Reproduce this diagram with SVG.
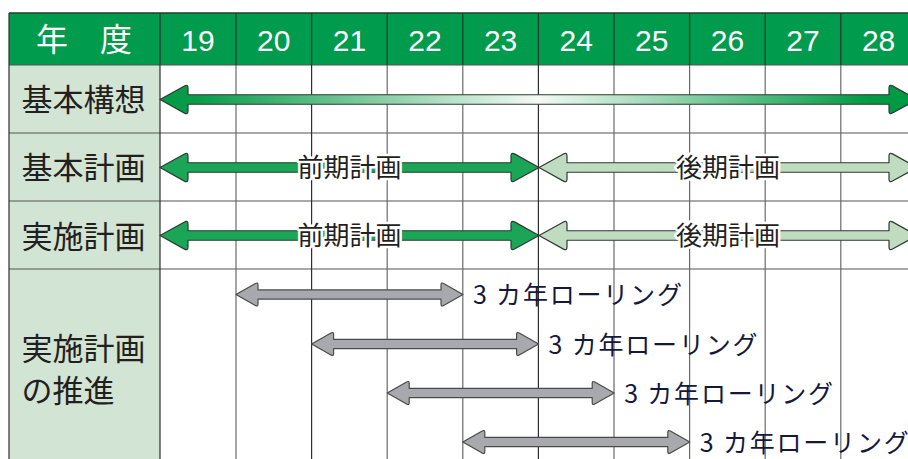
<svg xmlns="http://www.w3.org/2000/svg" xmlns:xlink="http://www.w3.org/1999/xlink" width="908" height="459" viewBox="0 0 908 459">
<style>
.hdr{fill:#009b4c}
.lab{fill:#d2e4d3}
.vg{stroke:#6a6a6a;stroke-width:1.2}
.vd{stroke:#2e2e2e;stroke-width:1.2}
.hg{stroke:#555;stroke-width:1.2}
.hs{stroke:#1f3f2c;stroke-width:1.3}
.ht{fill:#fff;font-family:"Liberation Sans",Arial,sans-serif;font-size:30px;text-anchor:middle}
.hj{fill:#fff;font-family:"Noto Sans CJK JP",sans-serif;font-size:32px}
.rl{fill:#231f20;font-family:"Noto Sans CJK JP",sans-serif;font-size:31px}
.pl{fill:#231f20;font-family:"Noto Sans CJK JP",sans-serif;font-size:26px;text-anchor:middle;stroke:#fff;stroke-width:5;stroke-linejoin:round;paint-order:stroke}
.gl{fill:#14183a;font-family:"Noto Sans CJK JP",sans-serif;font-size:25px;letter-spacing:1.8px}
.ar{stroke:#2f3a32;stroke-width:1.2;stroke-linejoin:round}
.dg{fill:#1ba557}
.lg{fill:#bfdcc0}
.gy{fill:#a7a9ac;stroke:#4a4a4a;stroke-width:1.2;stroke-linejoin:round}
</style>
<defs>
<linearGradient id="grad" gradientUnits="userSpaceOnUse" x1="160" y1="0" x2="917" y2="0">
<stop offset="0" stop-color="#009944"/>
<stop offset="0.05" stop-color="#0a9c4b"/>
<stop offset="0.5" stop-color="#f4f9f4"/>
<stop offset="0.94" stop-color="#009944"/>
<stop offset="1" stop-color="#009944"/>
</linearGradient>
<path id="gArrow" d="M236,294.5 L255.4,283.5 Q258,282 258,285 L258,289.9 L441,289.9 L441,285 Q441,282 443.6,283.5 L463,294.5 L443.6,305.5 Q441,307 441,304 L441,299.1 L258,299.1 L258,304 Q258,307 255.4,305.5 Z"/>
</defs>
<rect x="0" y="0" width="908" height="459" fill="#fff"/>

<g id="table">
<rect class="hdr" x="9" y="13" width="910" height="52"/>
<rect class="lab" x="9" y="65" width="151" height="400"/>
<line class="hg" x1="9" y1="133" x2="908" y2="133"/>
<line class="hg" x1="9" y1="201" x2="908" y2="201"/>
<line class="hg" x1="9" y1="269" x2="908" y2="269"/>
<line class="hg" x1="9" y1="65" x2="908" y2="65"/>
<line class="vg" x1="236" y1="65" x2="236" y2="459"/>
<line class="vd" x1="311.6" y1="65" x2="311.6" y2="459"/>
<line class="vg" x1="387.2" y1="65" x2="387.2" y2="459"/>
<line class="vg" x1="462.8" y1="65" x2="462.8" y2="459"/>
<line class="vd" x1="538.4" y1="65" x2="538.4" y2="459"/>
<line class="vg" x1="614" y1="65" x2="614" y2="459"/>
<line class="vg" x1="689.6" y1="65" x2="689.6" y2="459"/>
<line class="vg" x1="765.2" y1="65" x2="765.2" y2="459"/>
<line class="vg" x1="840.8" y1="65" x2="840.8" y2="459"/>
<line class="vd" x1="160" y1="13" x2="160" y2="459"/>
<line class="vd" x1="9" y1="13" x2="9" y2="459"/>
<line class="hs" x1="9" y1="13" x2="908" y2="13"/>
<line class="hs" x1="236" y1="13" x2="236" y2="65"/>
<line class="hs" x1="311.6" y1="13" x2="311.6" y2="65"/>
<line class="hs" x1="387.2" y1="13" x2="387.2" y2="65"/>
<line class="hs" x1="462.8" y1="13" x2="462.8" y2="65"/>
<line class="hs" x1="538.4" y1="13" x2="538.4" y2="65"/>
<line class="hs" x1="614" y1="13" x2="614" y2="65"/>
<line class="hs" x1="689.6" y1="13" x2="689.6" y2="65"/>
<line class="hs" x1="765.2" y1="13" x2="765.2" y2="65"/>
<line class="hs" x1="840.8" y1="13" x2="840.8" y2="65"/>
</g>

<g id="header">
<text class="hj" x="36" y="51">年　度</text>
<text class="ht" x="198" y="51">19</text>
<text class="ht" x="273.8" y="51">20</text>
<text class="ht" x="349.4" y="51">21</text>
<text class="ht" x="425" y="51">22</text>
<text class="ht" x="500.6" y="51">23</text>
<text class="ht" x="576.2" y="51">24</text>
<text class="ht" x="651.8" y="51">25</text>
<text class="ht" x="727.4" y="51">26</text>
<text class="ht" x="803" y="51">27</text>
<text class="ht" x="878.6" y="51">28</text>
</g>

<g id="labels">
<text class="rl" x="21.5" y="111">基本構想</text>
<text class="rl" x="21.5" y="179">基本計画</text>
<text class="rl" x="21.5" y="247.5">実施計画</text>
<text class="rl" x="21.5" y="359.5">実施計画</text>
<text class="rl" x="21.5" y="402">の推進</text>
</g>

<g id="connectors">
<g id="row1">
<path class="ar" fill="url(#grad)" d="M160,99.5 L184.5,85.9 Q188,84 188,88 L188,94.75 L889,94.75 L889,88 Q889,84 892.5,85.9 L917,99.5 L892.5,113.1 Q889,115 889,111 L889,104.25 L188,104.25 L188,111 Q188,115 184.5,113.1 Z"/>
</g>
<g id="row2">
<path class="ar dg" d="M160,167.5 L184.5,153.9 Q188,152 188,156 L188,162.75 L511,162.75 L511,156 Q511,152 514.5,153.9 L539,167.5 L514.5,181.1 Q511,183 511,179 L511,172.25 L188,172.25 L188,179 Q188,183 184.5,181.1 Z"/>
<path class="ar lg" d="M539,167.5 L563.5,153.9 Q567,152 567,156 L567,162.75 L889,162.75 L889,156 Q889,152 892.5,153.9 L917,167.5 L892.5,181.1 Q889,183 889,179 L889,172.25 L567,172.25 L567,179 Q567,183 563.5,181.1 Z"/>
<text class="pl" x="349.5" y="177">前期計画</text>
<text class="pl" x="728" y="177">後期計画</text>
</g>
<g id="row3" transform="translate(0,68)">
<path class="ar dg" d="M160,167.5 L184.5,153.9 Q188,152 188,156 L188,162.75 L511,162.75 L511,156 Q511,152 514.5,153.9 L539,167.5 L514.5,181.1 Q511,183 511,179 L511,172.25 L188,172.25 L188,179 Q188,183 184.5,181.1 Z"/>
<path class="ar lg" d="M539,167.5 L563.5,153.9 Q567,152 567,156 L567,162.75 L889,162.75 L889,156 Q889,152 892.5,153.9 L917,167.5 L892.5,181.1 Q889,183 889,179 L889,172.25 L567,172.25 L567,179 Q567,183 563.5,181.1 Z"/>
<text class="pl" x="349.5" y="177">前期計画</text>
<text class="pl" x="728" y="177">後期計画</text>
</g>
<g id="rolling1">
<use xlink:href="#gArrow" class="gy"/>
<text class="gl" x="473" y="304" xml:space="preserve">3 カ年ローリング</text>
</g>
<g id="rolling2" transform="translate(75.6,49.5)">
<use xlink:href="#gArrow" class="gy"/>
<text class="gl" x="473" y="304" xml:space="preserve">3 カ年ローリング</text>
</g>
<g id="rolling3" transform="translate(151.2,98.5)">
<use xlink:href="#gArrow" class="gy"/>
<text class="gl" x="473" y="304" xml:space="preserve">3 カ年ローリング</text>
</g>
<g id="rolling4" transform="translate(226.8,147.5)">
<use xlink:href="#gArrow" class="gy"/>
<text class="gl" x="473" y="304" xml:space="preserve">3 カ年ローリング</text>
</g>
</g>
</svg>
